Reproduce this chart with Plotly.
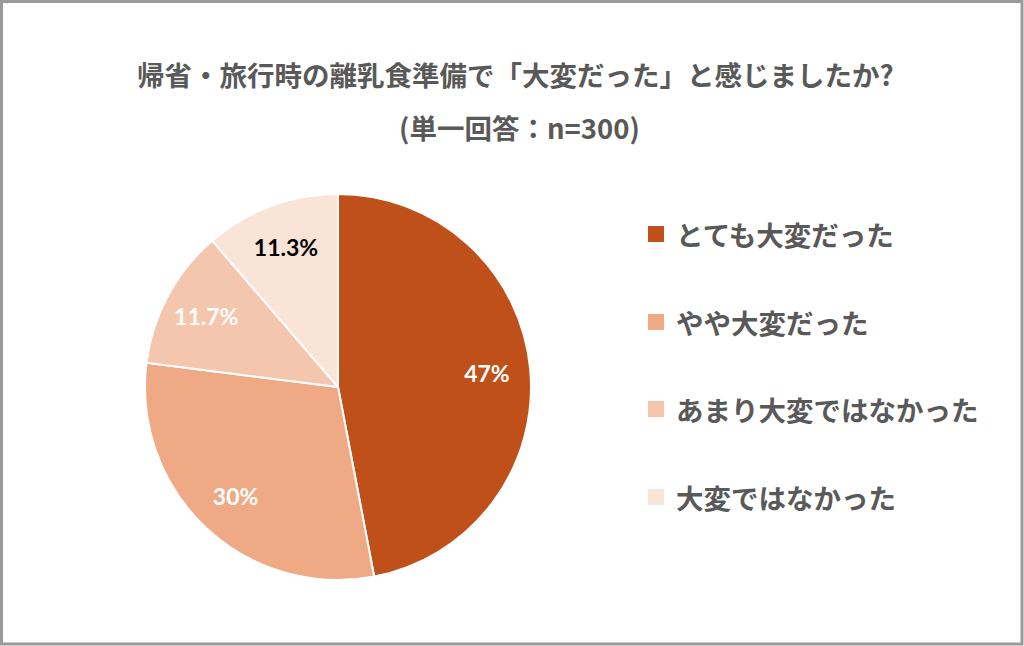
import plotly.graph_objects as graph_objects

# 帰省・旅行時の離乳食準備のアンケート結果
labels = ['とても大変だった', 'やや大変だった', 'あまり大変ではなかった', '大変ではなかった']
values = [47, 30, 11.7, 11.3]
value_texts = ['47%', '30%', '11.7%', '11.3%']
colors = ['#C0501A', '#EFA985', '#F5C6AE', '#FAE3D7']
text_colors = ['#FFFFFF', '#FFFFFF', '#FFFFFF', '#000000']

W, H = 1024, 646
JP_FONT = 'Noto Sans CJK JP'


def px_x(x):
    return x / W


def px_y(y):
    return 1 - y / H


figure = graph_objects.Figure()

# 円の中心(338, 387) 半径193
cx, cy, r = 338, 387, 193
pie_domain = dict(x = [px_x(cx - r), px_x(cx + r)], y = [px_y(cy + r), px_y(cy - r)])
figure.add_trace(graph_objects.Pie(
    labels = labels, values = values, text = value_texts,
    textinfo = 'none',
    marker = dict(colors = colors, line = dict(color = '#FFFFFF', width = 2)),
    sort = False, direction = 'clockwise', rotation = 0,
    domain = pie_domain, showlegend = False, hoverinfo = 'label+text'))

# ラベルを外寄りに置くため、透明なドーナツを重ねて文字だけ描く
figure.add_trace(graph_objects.Pie(
    labels = labels, values = values, text = value_texts,
    textinfo = 'text', textposition = 'inside', insidetextorientation = 'horizontal',
    textfont = dict(family = 'Lato', size = 23, color = text_colors, weight = 'bold'),
    marker = dict(colors = ['rgba(0,0,0,0)'] * len(values), line = dict(width = 0)),
    hole = 0.55, sort = False, direction = 'clockwise', rotation = 0,
    domain = pie_domain, showlegend = False, hoverinfo = 'skip'))

# 凡例は間隔を広く取りたいので注釈で描く
legend_y = [234, 322, 409, 497]
for label, color, y in zip(labels, colors, legend_y):
    figure.add_shape(type = 'rect', xref = 'paper', yref = 'paper',
                     x0 = px_x(648), x1 = px_x(664), y0 = px_y(y + 8), y1 = px_y(y - 8),
                     fillcolor = color, line = dict(width = 0))
    figure.add_annotation(x = px_x(674), y = px_y(y), xref = 'paper', yref = 'paper',
                          text = '<b>{}</b>'.format(label), showarrow = False,
                          xanchor = 'left', yanchor = 'middle',
                          font = dict(family = JP_FONT, size = 27.5, color = '#595959'))

# タイトル
figure.add_annotation(x = px_x(515), y = px_y(74), xref = 'paper', yref = 'paper',
                      text = '<b>帰省・旅行時の離乳食準備で「大変だった」と感じましたか?</b>',
                      showarrow = False, xanchor = 'center', yanchor = 'middle',
                      font = dict(family = JP_FONT, size = 27.5, color = '#595959'))
figure.add_annotation(x = px_x(519), y = px_y(127), xref = 'paper', yref = 'paper',
                      text = '<b>(単一回答：n=300)</b>',
                      showarrow = False, xanchor = 'center', yanchor = 'middle',
                      font = dict(family = JP_FONT, size = 27.5, color = '#595959'))

# 外枠
figure.add_shape(type = 'rect', xref = 'paper', yref = 'paper',
                 x0 = px_x(1.5), x1 = px_x(W - 2), y0 = px_y(H - 2), y1 = px_y(1.5),
                 line = dict(color = '#9A9A9A', width = 3), fillcolor = 'rgba(0,0,0,0)')

figure.update_layout(width = W, height = H,
                     margin = dict(l = 0, r = 0, t = 0, b = 0),
                     paper_bgcolor = '#FFFFFF', plot_bgcolor = '#FFFFFF')

# ページ余白をなくして 1024x646 にぴったり合わせる
figure.write_html('out.html', config = {'displayModeBar': False},
                  post_script = "document.body.style.margin = '0';")
